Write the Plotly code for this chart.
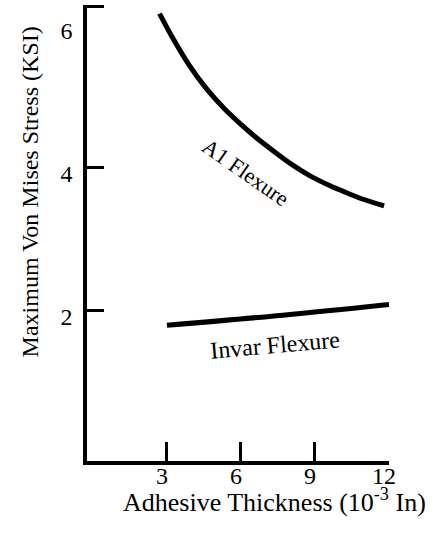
import plotly.graph_objects as go

# Data
al_x = [2.7, 3.2, 3.9, 4.6, 5.3, 6.0, 6.6, 7.5, 8.1, 8.8, 9.5, 10.1, 10.8, 11.8]
al_y = [6.15, 5.83, 5.43, 5.10, 4.83, 4.60, 4.42, 4.18, 4.03, 3.88, 3.76, 3.67, 3.57, 3.46]
invar_x = [3.0, 7.7, 12.0]
invar_y = [1.79, 1.93, 2.08]

x_ticks = [3, 6, 9, 12]
x_ticktext = ["3", "6", "9", "12"]
y_ticks = [2, 4, 6]
y_ticktext = ["2", "4", "6"]
y_tick_marks = [2, 4, 6.25]

FONT = "Liberation Serif"
FS = 24

fig = go.Figure()
fig.add_trace(go.Scatter(x=al_x, y=al_y, mode="lines",
                         line=dict(color="black", width=5, shape="spline", smoothing=0.8),
                         showlegend=False, hoverinfo="skip"))
fig.add_trace(go.Scatter(x=invar_x, y=invar_y, mode="lines",
                         line=dict(color="black", width=5, shape="spline"),
                         showlegend=False, hoverinfo="skip"))

fig.add_annotation(x=6.2, y=3.93, xref="x", yref="y", text="A1 Flexure", showarrow=False,
                   textangle=35, font=dict(family=FONT, size=22, color="black"))
fig.add_annotation(x=7.38, y=1.51, xref="x", yref="y", text="Invar Flexure", showarrow=False,
                   textangle=-5, font=dict(family=FONT, size=24, color="black"))

fig.add_annotation(x=0.622, y=-0.087, xref="paper", yref="paper",
                   text="Adhesive Thickness (10<sup>-3</sup> In)", showarrow=False,
                   xanchor="center", yanchor="middle",
                   font=dict(family=FONT, size=26, color="black"))
fig.add_annotation(x=-0.189, y=0.591, xref="paper", yref="paper",
                   text="Maximum Von Mises Stress (KSI)", showarrow=False, textangle=-90,
                   xanchor="center", yanchor="middle",
                   font=dict(family=FONT, size=FS, color="black"))

fig.update_layout(
    width=438, height=533,
    margin=dict(l=87, r=49, t=5, b=72),
    paper_bgcolor="white", plot_bgcolor="white",
    font=dict(family=FONT, size=FS, color="black"),
    xaxis=dict(range=[-0.24, 12.0], showgrid=False, zeroline=False,
               showline=True, linecolor="black", linewidth=3.5,
               tickmode="array", tickvals=x_ticks, ticktext=x_ticktext,
               ticks="inside", ticklen=19, tickwidth=3, tickcolor="black",
               ticklabelshift=-5, ticklabelstandoff=-10,
               tickfont=dict(family=FONT, size=FS, color="black")),
    yaxis=dict(range=[-0.11, 6.27], showgrid=False, zeroline=False,
               showline=True, linecolor="black", linewidth=3.5,
               tickmode="array", tickvals=y_ticks, ticktext=y_ticktext,
               ticks="", ticklabelshift=6, ticklabelstandoff=6,
               tickfont=dict(family=FONT, size=FS, color="black"),
               minor=dict(tickmode="array", tickvals=y_tick_marks, ticks="inside",
                          ticklen=17, tickwidth=3, tickcolor="black", showgrid=False)),
)

fig.write_html("out.html")
